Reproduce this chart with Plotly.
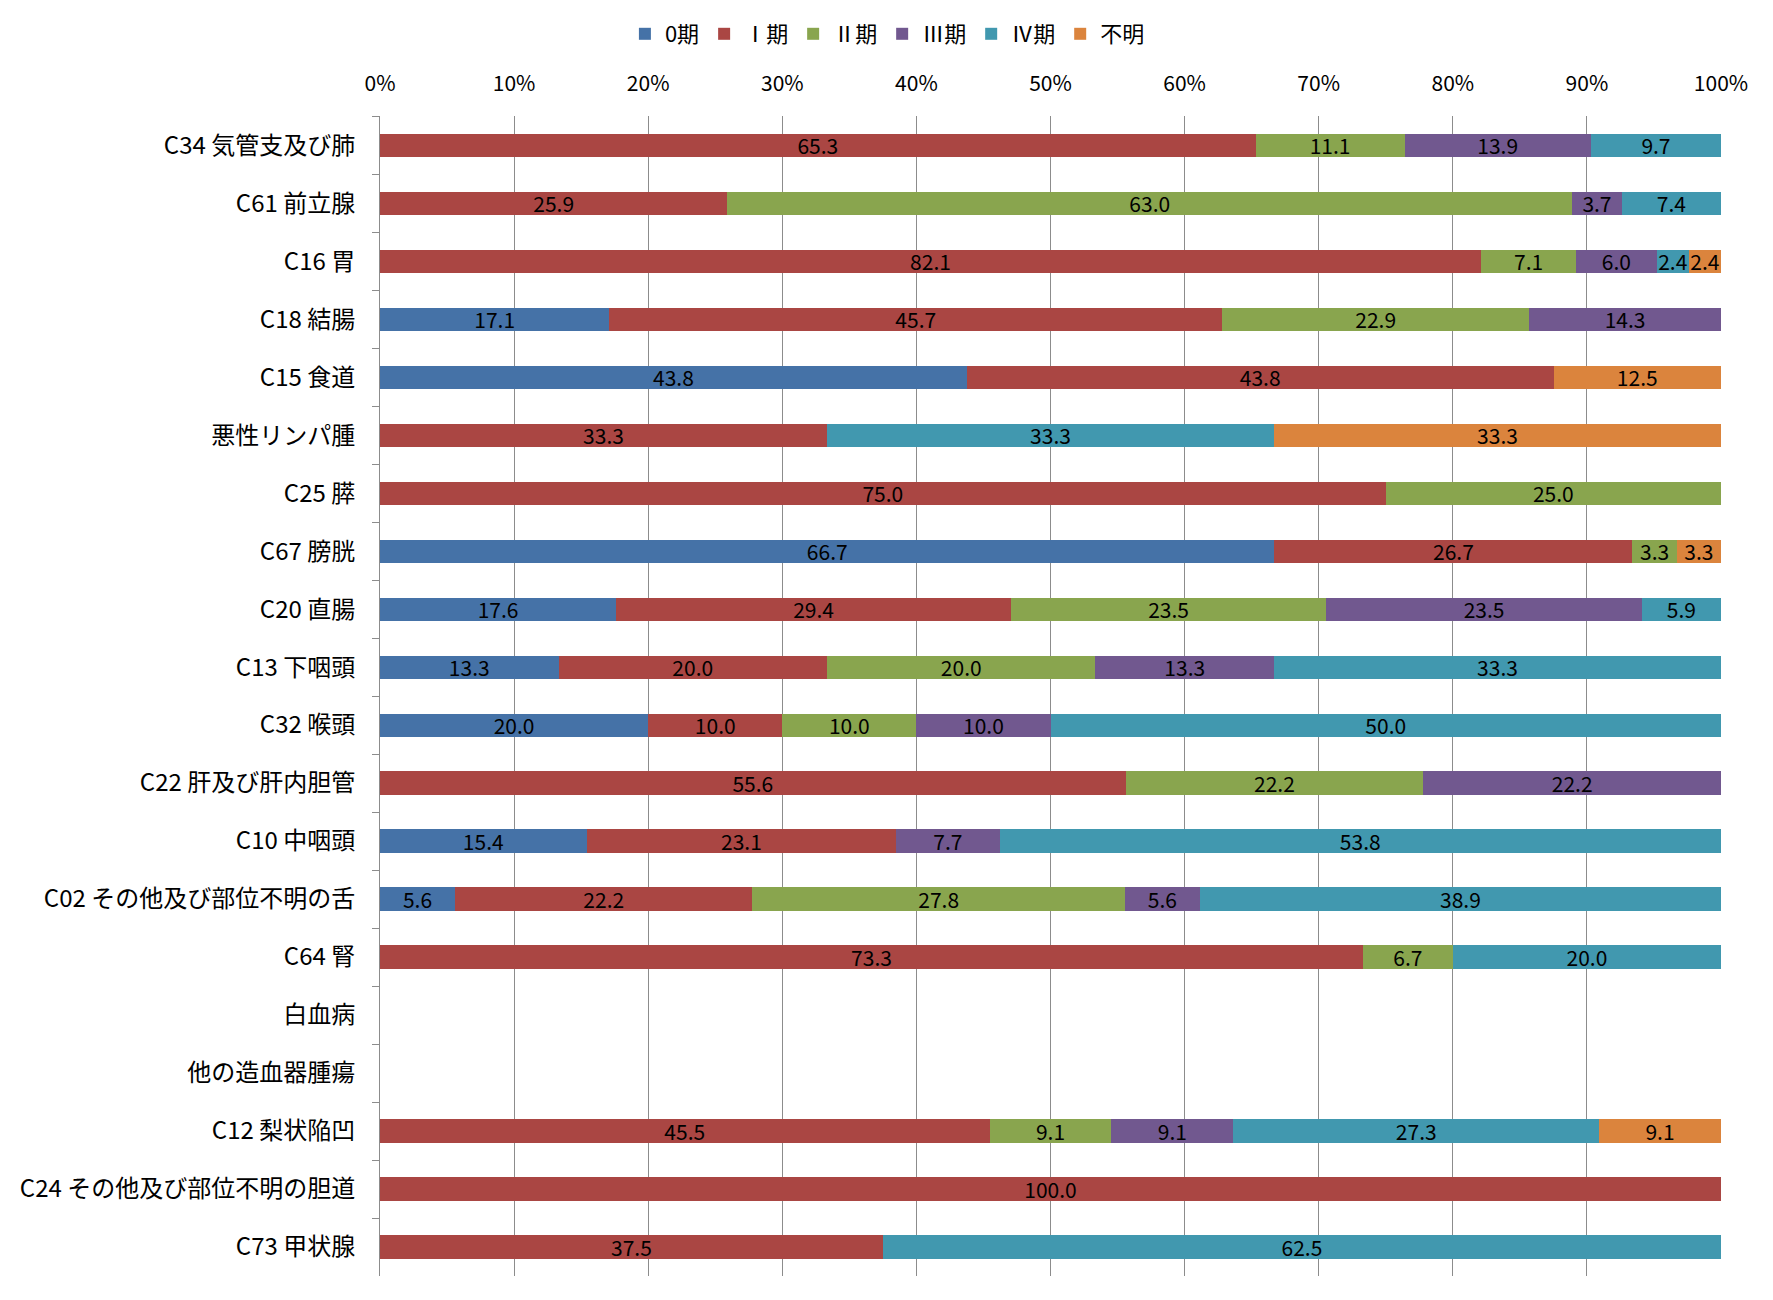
import plotly.graph_objects as go

categories = [
    "C34 気管支及び肺", "C61 前立腺", "C16 胃", "C18 結腸", "C15 食道",
    "悪性リンパ腫", "C25 膵", "C67 膀胱", "C20 直腸", "C13 下咽頭",
    "C32 喉頭", "C22 肝及び肝内胆管", "C10 中咽頭", "C02 その他及び部位不明の舌",
    "C64 腎", "白血病", "他の造血器腫瘍", "C12 梨状陥凹",
    "C24 その他及び部位不明の胆道", "C73 甲状腺",
]

stage0 = [None, None, None, 17.1, 43.8, None, None, 66.7, 17.6, 13.3,
          20.0, None, 15.4, 5.6, None, None, None, None, None, None]
stage1 = [65.3, 25.9, 82.1, 45.7, 43.8, 33.3, 75.0, 26.7, 29.4, 20.0,
          10.0, 55.6, 23.1, 22.2, 73.3, None, None, 45.5, 100.0, 37.5]
stage2 = [11.1, 63.0, 7.1, 22.9, None, None, 25.0, 3.3, 23.5, 20.0,
          10.0, 22.2, None, 27.8, 6.7, None, None, 9.1, None, None]
stage3 = [13.9, 3.7, 6.0, 14.3, None, None, None, None, 23.5, 13.3,
          10.0, 22.2, 7.7, 5.6, None, None, None, 9.1, None, None]
stage4 = [9.7, 7.4, 2.4, None, None, 33.3, None, None, 5.9, 33.3,
          50.0, None, 53.8, 38.9, 20.0, None, None, 27.3, None, 62.5]
unknown = [None, None, 2.4, None, 12.5, 33.3, None, 3.3, None, None,
           None, None, None, None, None, None, None, 9.1, None, None]

series_names = ["0期", "Ⅰ期", "Ⅱ期", "Ⅲ期", "Ⅳ期", "不明"]
series_values = [stage0, stage1, stage2, stage3, stage4, unknown]
colors = ["#4572A7", "#AA4643", "#89A54E", "#71588F", "#4198AF", "#DB843D"]
tick_vals = [0, 10, 20, 30, 40, 50, 60, 70, 80, 90, 100]
tick_text = ["0%", "10%", "20%", "30%", "40%", "50%", "60%", "70%", "80%", "90%", "100%"]

FONT = "Noto Sans CJK JP, Noto Sans, sans-serif"

fig = go.Figure()
for name, vals, col in zip(series_names, series_values, colors):
    fig.add_trace(go.Bar(
        name=name, y=categories, x=vals, orientation="h",
        marker=dict(color=col, line=dict(width=0)),
        text=["" if v is None else f"{v:.1f}" for v in vals],
        textposition="inside", insidetextanchor="middle", textangle=0,
        textfont=dict(color="black", size=21, family=FONT),
        cliponaxis=False,
    ))

fig.update_layout(
    barmode="stack", barnorm="percent", bargap=0.6,
    width=1773, height=1300,
    paper_bgcolor="white", plot_bgcolor="white",
    margin=dict(l=371, r=60, t=107, b=32),
    font=dict(family=FONT, color="black"),
    uniformtext=dict(minsize=21, mode="show"),
    legend=dict(orientation="h", x=0.496, xref="container", xanchor="center",
                y=0.98, yref="container", yanchor="middle",
                font=dict(size=22, family=FONT), traceorder="normal",
                itemwidth=30, tracegroupgap=0),
    showlegend=True,
)
fig.update_xaxes(
    side="top", range=[0, 100], tickvals=tick_vals, ticktext=tick_text,
    showgrid=True, gridcolor="#8C8C8C", gridwidth=1,
    tickfont=dict(size=21, family=FONT), zeroline=False,
    showline=False, ticks="", ticklabelstandoff=20,
)
fig.update_yaxes(
    autorange="reversed", categoryorder="array", categoryarray=categories,
    showline=True, linecolor="#8C8C8C", linewidth=1,
    ticks="outside", tickson="boundaries", ticklen=7, tickcolor="#8C8C8C",
    tickfont=dict(size=24, family=FONT), ticklabelstandoff=19,
)

fig.write_html("out.html")
